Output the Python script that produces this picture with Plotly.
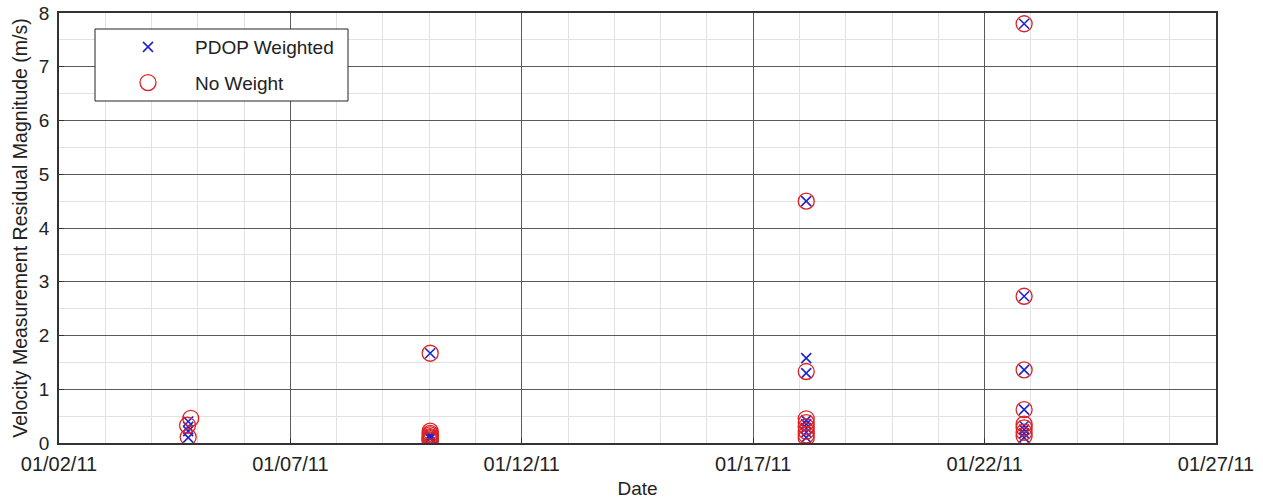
import plotly.graph_objects as go

# ---- data ----
pdop_dates = (["2011-01-04 19:00"] * 4 + ["2011-01-10 00:30"] * 5 +
              ["2011-01-18 03:30"] * 8 + ["2011-01-22 20:30"] * 8)
pdop_values = [0.40, 0.30, 0.22, 0.10,
               1.67, 0.15, 0.12, 0.10, 0.08,
               4.50, 1.58, 1.30, 0.42, 0.35, 0.28, 0.20, 0.10,
               7.80, 2.73, 1.36, 0.62, 0.32, 0.25, 0.18, 0.10]

now_dates = (["2011-01-04 20:20", "2011-01-04 18:40", "2011-01-04 19:00"] +
             ["2011-01-10 00:30"] * 9 + ["2011-01-18 03:30"] * 8 +
             ["2011-01-22 20:30"] * 8)
now_values = [0.46, 0.33, 0.11,
              1.67, 0.22, 0.18, 0.15, 0.12, 0.10, 0.08, 0.06, 0.04,
              4.50, 1.33, 0.45, 0.38, 0.30, 0.22, 0.15, 0.10,
              7.80, 2.73, 1.36, 0.62, 0.35, 0.28, 0.20, 0.13]

x_range = ["2011-01-02", "2011-01-27"]
y_range = [0, 8]

font_family = "Liberation Sans, Arial, sans-serif"

W, H = 1263, 499
L, R, T, B = 59, 47, 13, 56
pw, ph = W - L - R, H - T - B


def px_x(p):
    return (p - L) / pw


def px_y(p):
    return (H - B - p) / ph


fig = go.Figure()
fig.add_trace(go.Scatter(
    x=pdop_dates, y=pdop_values, mode="markers", name="PDOP Weighted",
    legendgroup="a",
    marker=dict(symbol="x-thin-open", size=10, color="#2222cc",
                line=dict(color="#2222cc", width=1.6)),
))
fig.add_trace(go.Scatter(
    x=now_dates, y=now_values, mode="markers", name="No Weight",
    legendgroup="b",
    marker=dict(symbol="circle-open", size=16, color="#dd2222",
                line=dict(color="#dd2222", width=1.3)),
))

# legend frame
fig.add_shape(type="rect", xref="paper", yref="paper",
              x0=px_x(95), x1=px_x(348), y0=px_y(101), y1=px_y(29),
              fillcolor="white", line=dict(color="#222222", width=1),
              layer="above")

fig.update_layout(
    width=W, height=H,
    margin=dict(l=L, r=R, t=T, b=B, autoexpand=False),
    plot_bgcolor="white", paper_bgcolor="white",
    font=dict(family=font_family, size=19, color="#222222"),
    showlegend=True,
    legend=dict(x=px_x(101), y=px_y(28), xanchor="left", yanchor="top",
                bgcolor="rgba(0,0,0,0)", borderwidth=0,
                font=dict(size=19), itemwidth=84, tracegroupgap=8),
    xaxis=dict(
        type="date", range=x_range, dtick=5 * 86400000,
        tick0="2011-01-02", tickformat="%m/%d/%y",
        tickfont=dict(size=20), ticklabeloverflow="allow",
        ticklabelstandoff=2,
        showgrid=True, gridcolor="#5a5a5a", gridwidth=1,
        minor=dict(dtick=86400000, showgrid=True, gridcolor="#e2e2e2",
                   gridwidth=1),
        showline=True, linecolor="#333333", linewidth=1.5, mirror=True,
        ticks="inside", ticklen=5, tickcolor="#333333",
        title=dict(text="Date", font=dict(size=19), standoff=8),
        zeroline=False, automargin=False,
    ),
    yaxis=dict(
        range=y_range, dtick=1,
        tickfont=dict(size=19), ticklabeloverflow="allow",
        ticklabelstandoff=4,
        showgrid=True, gridcolor="#5a5a5a", gridwidth=1,
        minor=dict(dtick=0.5, showgrid=True, gridcolor="#e2e2e2", gridwidth=1),
        showline=True, linecolor="#333333", linewidth=1.5, mirror=True,
        ticks="inside", ticklen=5, tickcolor="#333333",
        title=dict(text="Velocity Measurement Residual Magnitude (m/s)",
                   font=dict(size=19.5), standoff=6),
        zeroline=False, automargin=False,
    ),
)

fig.write_html("out.html",
               config={"displayModeBar": False},
               post_script="document.body.style.margin='0px';")
